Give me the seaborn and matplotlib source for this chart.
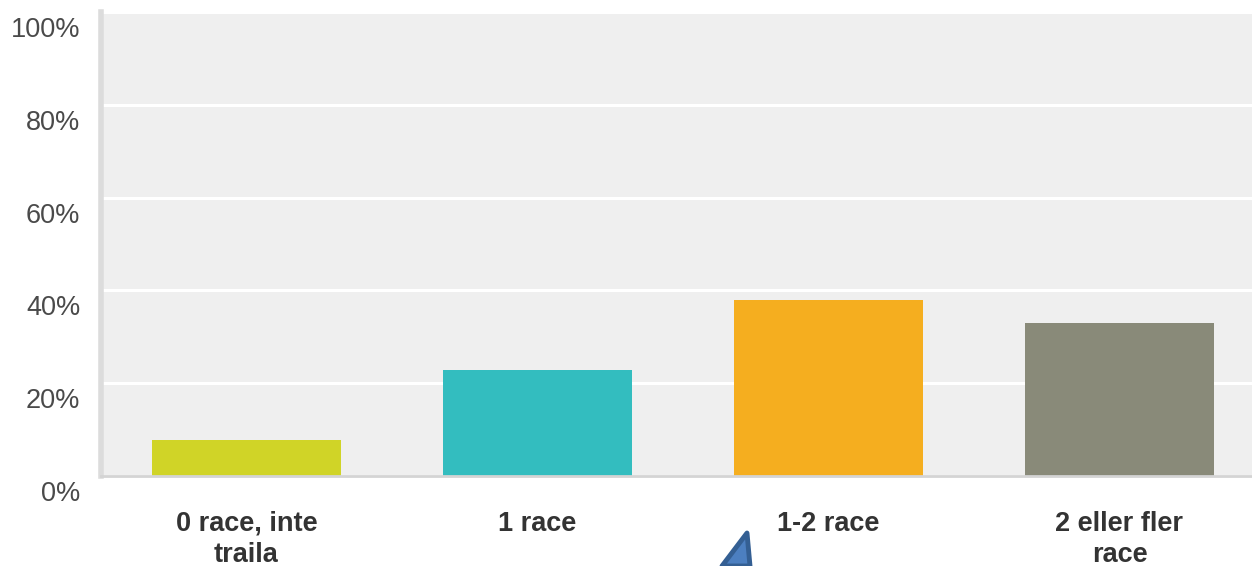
import matplotlib
matplotlib.use("Agg")
import matplotlib.pyplot as plt
from matplotlib.transforms import ScaledTranslation
from matplotlib.patches import Polygon
import seaborn as sns
import pandas as pd

# Datos del gráfico
categorias = ["0 race, inte\ntraila", "1 race", "1-2 race", "2 eller fler\nrace"]
porcentajes = [7.7, 22.8, 37.9, 32.9]
colores = ["#d0d427", "#33bdbf", "#f5ae1f", "#898a79"]
ticks_y = [0, 20, 40, 60, 80, 100]

df = pd.DataFrame({"categoria": categorias, "pct": porcentajes})

sns.set_theme(style="white")
plt.rcParams["font.family"] = ["Liberation Sans", "DejaVu Sans"]

fig = plt.figure(figsize=(12.52, 5.66), dpi=100)
# el área del gráfico sigue más allá del borde derecho, como en la captura
ax = fig.add_axes([101 / 1252, 90 / 566, 1164 / 1252, 464 / 566])
ax.set_facecolor("#efefef")

sns.barplot(data=df, x="categoria", y="pct", hue="categoria", palette=colores,
            legend=False, width=0.65, saturation=1, linewidth=0, ax=ax, zorder=3)

ax.set_ylim(0, 100)
ax.set_xlim(-0.5, len(categorias) - 0.5)
ax.set_yticks(ticks_y)
ax.set_yticklabels([f"{t}%" for t in ticks_y])
ax.yaxis.grid(True, color="white", linewidth=2.2, zorder=1)
ax.set_axisbelow(True)
ax.set_xlabel("")
ax.set_ylabel("")

for s in ["top", "right"]:
    ax.spines[s].set_visible(False)
ax.spines["left"].set_color("#dcdcdc")
ax.spines["left"].set_linewidth(4)
ax.spines["bottom"].set_color("#d4d4d4")
ax.spines["bottom"].set_linewidth(2)
ax.spines["bottom"].set_zorder(4)

ax.tick_params(axis="y", length=0, pad=15, labelsize=19.5, labelcolor="#4a4a4a")
ax.tick_params(axis="x", length=0, pad=25, labelsize=19.5, labelcolor="#333333")
for lbl in ax.get_xticklabels():
    lbl.set_fontweight("bold")
    lbl.set_linespacing(1.25)
# etiquetas del eje y un poco por debajo de la línea
off = ScaledTranslation(0, -15 / 100, fig.dpi_scale_trans)
for lbl in ax.get_yticklabels():
    lbl.set_transform(lbl.get_transform() + off)

# flecha azul recortada en la parte inferior
flecha = Polygon([(747 / 1252, 1 - 533 / 566), (750 / 1252, 0), (722 / 1252, 0)],
                 closed=True, transform=fig.transFigure, facecolor="#4c7fc0",
                 edgecolor="#345f93", linewidth=3.5, joinstyle="round")
fig.patches.append(flecha)

fig.savefig("out.png", dpi=100)
